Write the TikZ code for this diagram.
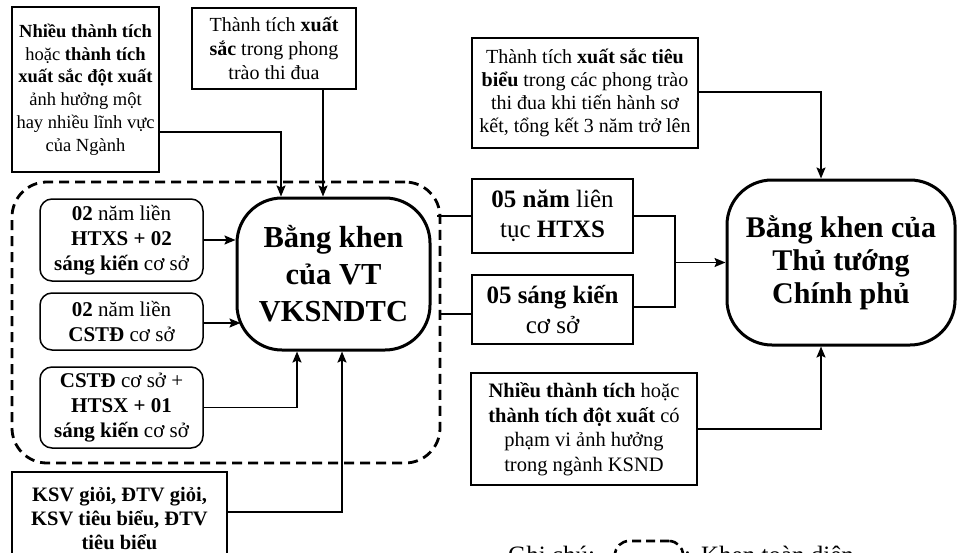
\documentclass[tikz,border=0pt]{standalone}
\usepackage{fontspec}
\setmainfont{Liberation Serif}
\usetikzlibrary{arrows.meta,calc}
\begin{document}
\begin{tikzpicture}[x=1pt,y=-1pt,
  box/.style={draw,line width=1.5pt,align=center,inner sep=0pt},
  rbox/.style={box,rounded corners=12pt},
  bignode/.style={draw,line width=3pt,rounded corners=45pt,align=center,inner sep=0pt},
  dashbox/.style={draw,line width=2.8pt,dash pattern=on 10pt off 6pt,rounded corners=35pt,inner sep=0pt},
  link/.style={line width=1.7pt},
  arr/.style={link,-{Stealth[length=11pt,width=9pt,inset=2pt]}},
  fs/.style={font=\fontsize{20}{24}\selectfont},
]
\useasboundingbox (0,0) rectangle (960,552);
% top boxes
\node[box,fs,font=\fontsize{18.5}{22.8}\selectfont,minimum width=147pt,minimum height=165pt] (A) at (85.5,89.5)
  {\textbf{Nhiều thành tích}\\ hoặc \textbf{thành tích}\\ \textbf{xuất sắc đột xuất}\\ ảnh hưởng một\\ hay nhiều lĩnh vực\\ của Ngành};
\node[box,fs,minimum width=164pt,minimum height=81pt] (B) at (274,48.5)
  {Thành tích \textbf{xuất}\\ \textbf{sắc} trong phong\\ trào thi đua};
\node[box,font=\fontsize{20}{23}\selectfont,minimum width=226pt,minimum height=110pt] (G) at (585,93)
  {Thành tích \textbf{xuất sắc tiêu}\\ \textbf{biểu} trong các phong trào\\ thi đua khi tiến hành sơ\\ kết, tổng kết 3 năm trở lên};
% dashed group
\node[dashbox,minimum width=428pt,minimum height=281pt] (K) at (226,322.5) {};
% main nodes
\node[bignode,font=\fontsize{30.5}{37}\selectfont\bfseries,minimum width=193pt,minimum height=152pt] (VT) at (333.5,274)
  {Bằng khen\\ của VT\\ VKSNDTC};
\node[bignode,font=\fontsize{30}{33}\selectfont\bfseries,minimum width=228pt,minimum height=165pt] (F) at (841,262.5)
  {Bằng khen của\\ Thủ tướng\\ Chính phủ};
% left small boxes
\node[rbox,font=\fontsize{21}{25}\selectfont,minimum width=163pt,minimum height=82pt] (C1) at (121.5,240)
  {\textbf{02} năm liền\\ \textbf{HTXS + 02}\\ \textbf{sáng kiến} cơ sở};
\node[rbox,font=\fontsize{21}{25}\selectfont,minimum width=163pt,minimum height=57pt] (C2) at (121.5,321.5)
  {\textbf{02} năm liền\\ \textbf{CSTĐ} cơ sở};
\node[rbox,font=\fontsize{21}{25}\selectfont,minimum width=163pt,minimum height=81pt] (C3) at (121.5,407.5)
  {\textbf{CSTĐ} cơ sở +\\ \textbf{HTSX + 01}\\ \textbf{sáng kiến} cơ sở};
\node[box,font=\fontsize{20.5}{24}\selectfont\bfseries,minimum width=215pt,minimum height=94pt] (D) at (119.5,519)
  {KSV giỏi, ĐTV giỏi,\\ KSV tiêu biểu, ĐTV\\ tiêu biểu};
% middle boxes
\node[box,font=\fontsize{25}{30}\selectfont,minimum width=161pt,minimum height=74pt] (E1) at (552.5,216)
  {\textbf{05 năm} liên\\ tục \textbf{HTXS}};
\node[box,font=\fontsize{25}{30}\selectfont,minimum width=161pt,minimum height=69pt] (E2) at (552.5,309.5)
  {\textbf{05 sáng kiến}\\ cơ sở};
\node[box,font=\fontsize{20.5}{24.5}\selectfont,minimum width=226pt,minimum height=112pt] (H) at (584,429)
  {\textbf{Nhiều thành tích} hoặc\\ \textbf{thành tích đột xuất} có\\ phạm vi ảnh hưởng\\ trong ngành KSND};
% connectors
\draw[arr] ([yshift=-42.5pt]A.east) -| ([xshift=-52.5pt]VT.north);
\draw[arr] ([xshift=49pt]B.south) -- ([xshift=49pt]B.south |- VT.north);
\draw[arr] (C1.east) -- (C1.east -| VT.west);
\draw[arr] ([yshift=-1.5pt]C2.east) -- ([yshift=-1.5pt,xshift=5pt]C2.east -| VT.west);
\draw[arr] (C3.east) -| ([xshift=-36.5pt]VT.south);
\draw[arr] ([yshift=7pt]D.east) -| ([xshift=8.5pt]VT.south);
\draw[link] ([xshift=-4pt]E1.west -| K.east) -- (E1.west);
\draw[link] ([yshift=-4.5pt]E2.west -| K.east) -- ([yshift=-4.5pt]E2.west);
\coordinate (J) at (675,262.5);
\draw[link] (E1.east) -| (J);
\draw[link] ([yshift=2.5pt]E2.east) -| (J);
\draw[arr] (J) -- (J -| F.west);
\draw[arr] ([yshift=1pt]G.east) -| ([xshift=-20pt]F.north);
\draw[arr] (H.east) -| ([xshift=-20pt]F.south);
% legend
\node[anchor=base west,font=\fontsize{25}{28}\selectfont,inner sep=0pt] (L1) at (508,563) {Ghi chú:};
\node[dashbox,line width=2.6pt,dash pattern=on 9pt off 5pt,rounded corners=14pt,minimum width=68pt,minimum height=40pt] (L2) at (649,561) {};
\node[anchor=base west,font=\fontsize{25}{28}\selectfont,inner sep=0pt] (L3) at (684,563) {:\hspace{10pt}Khen toàn diện};
\end{tikzpicture}
\end{document}
